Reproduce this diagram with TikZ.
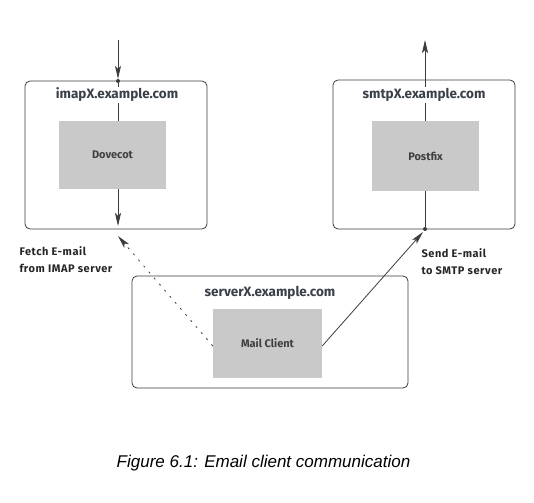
\documentclass[tikz,border=0pt]{standalone}
\usepackage{fontspec}
\setmainfont{Fira Sans}
\newfontfamily\capfont{Liberation Sans}
\newfontfamily\notefont[LetterSpace=5]{Fira Sans}
\usetikzlibrary{arrows.meta,backgrounds}
\definecolor{hostink}{HTML}{3A4048}
\definecolor{appfill}{HTML}{C9C9C9}
\definecolor{wire}{HTML}{3C3C3C}
\begin{document}
\begin{tikzpicture}[x=1pt, y=-1pt,
    host/.style={draw=wire, line width=0.8pt, rounded corners=5pt, minimum width=182pt, inner sep=0pt},
    app/.style={fill=appfill, text=black!75, font=\bfseries\fontsize{11}{13}\selectfont, inner sep=0pt},
    hosttitle/.style={fill=white, text=hostink, font=\bfseries\fontsize{13.5}{15}\selectfont, inner sep=1pt},
    note/.style={anchor=west, align=left, text=black!85, font=\notefont\bfseries\fontsize{11}{17}\selectfont},
    wire/.style={draw=wire, line width=0.8pt},
    flow/.style={wire, -{Stealth[length=13pt,width=6pt,inset=3pt]}},
    port/.style={circle, fill=wire, inner sep=0pt, minimum size=4pt}]
\useasboundingbox (0,0) rectangle (534,502);
% hosts
\node[host, minimum height=148pt] (imap) at (116,155) {};
\node[host, minimum height=149pt] (smtp) at (424,154.5) {};
\node[host, minimum width=276pt, minimum height=112pt] (client) at (270,332) {};
% services
\node[app, minimum width=107pt, minimum height=68pt] (dovecot) at (112.5,155) {Dovecot};
\node[app, minimum width=107pt, minimum height=70pt] (postfix) at (425.5,156) {Postfix};
\node[app, minimum width=109pt, minimum height=69pt] (mua) at (267.5,343.5) {Mail Client};
% ports
\node[port] (imapin) at (118,81) {};
\node[port] (smtpin) at (425,229) {};
\coordinate (imapsrc) at (118,40);
\coordinate (smtpout) at (425,40);
\coordinate (imapout) at (118,226);
\coordinate (fetchend) at (118,236);
\coordinate (sendend) at (423,232);
% connectors
\begin{scope}[on background layer]
  \draw[flow] (imapsrc) -- (imapin);
  \draw[wire] (imapin) -- (dovecot.north -| imapin);
  \draw[flow] (dovecot.south -| imapin) -- (imapout);
  \draw[wire] (smtpin) -- (postfix.south -| smtpin);
  \draw[flow] (postfix.north -| smtpin) -- (smtpout);
\end{scope}
\node[hosttitle] (imaptitle) at (117,95) {imapX.example.com};
\node[hosttitle] (smtptitle) at (424,95) {smtpX.example.com};
\node[hosttitle] (clienttitle) at (270,293) {serverX.example.com};
\draw[flow, dash pattern=on 2pt off 6pt] (mua.west |- 0,346) -- (fetchend);
\draw[flow] (mua.east |- 0,346) -- (sendend);
% labels
\node[note] (fetch) at (16,260) {Fetch E-mail\\from IMAP server};
\node[note] (send) at (418,262) {Send E-mail\\to SMTP server};
\node[font=\capfont\itshape\fontsize{17}{20}\selectfont] (caption) at (263.5,463) {Figure 6.1: Email client communication};
\end{tikzpicture}
\end{document}
